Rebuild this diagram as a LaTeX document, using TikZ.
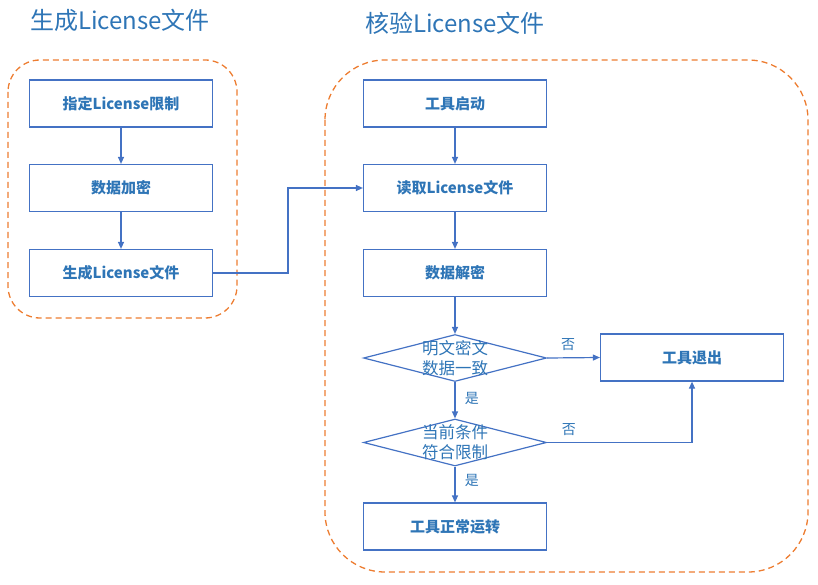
\documentclass[tikz,border=0pt]{standalone}
\usepackage{fontspec}
\setmainfont{Noto Sans CJK SC}
\usetikzlibrary{arrows.meta,shapes.geometric}
\definecolor{lineblue}{HTML}{4472C4}
\definecolor{txtblue}{HTML}{2E75B6}
\definecolor{dashor}{HTML}{ED7D31}
\begin{document}
\begin{tikzpicture}[x=1pt,y=-1pt,
  box/.style={draw=lineblue,line width=1.2pt,minimum width=183pt,minimum height=47pt,inner sep=0pt,text=txtblue,font=\fontsize{15}{17}\selectfont\bfseries},
  dia/.style={draw=lineblue,line width=1.2pt,diamond,aspect=3.9,minimum width=183pt,minimum height=47pt,inner sep=0pt,text=txtblue,align=center,font=\fontsize{16.5}{20}\selectfont},
  conn/.style={draw=lineblue,line width=1.2pt,-{Triangle[length=7pt,width=6pt]}},
  grp/.style={draw=dashor,line width=1.3pt,dash pattern=on 6pt off 4pt},
  ttl/.style={text=txtblue,font=\fontsize{24}{26}\selectfont},
  lbl/.style={text=txtblue,font=\fontsize{14}{16}\selectfont}]
\useasboundingbox (0,0) rectangle (818,585);
% groups
\draw[grp,rounded corners=32pt] (8,60) rectangle (237,318);
\draw[grp,rounded corners=60pt] (325,60) rectangle (808,572);
\node[ttl] (t1) at (120,20) {生成License文件};
\node[ttl] (t2) at (455,23) {核验License文件};
% left column
\node[box] (a1) at (121,103.5) {指定License限制};
\node[box] (a2) at (121,188) {数据加密};
\node[box] (a3) at (121,273) {生成License文件};
% right column
\node[box] (b1) at (455,103.5) {工具启动};
\node[box] (b2) at (455,188) {读取License文件};
\node[box] (b3) at (455,273) {数据解密};
\node[dia] (d1) at (455,358) {};
\node[text=txtblue,align=center,font=\fontsize{16.5}{20}\selectfont] (d1t) at (d1.center) {明文密文\\数据一致};
\node[dia] (d2) at (455,442.5) {};
\node[text=txtblue,align=center,font=\fontsize{16.5}{20}\selectfont] (d2t) at (d2.center) {当前条件\\符合限制};
\node[box] (ex) at (692,357.5) {工具退出};
\node[box] (ok) at (455,526.5) {工具正常运转};
% connectors
\draw[conn] (a1) -- (a2);
\draw[conn] (a2) -- (a3);
\draw[conn] (a3.east) -- (288,273) -- (288,188) -- (b2.west);
\draw[conn] (b1) -- (b2);
\draw[conn] (b2) -- (b3);
\draw[conn] (b3) -- (d1);
\draw[conn] (d1) -- node[lbl,right=6pt,pos=0.45] {是} (d2);
\draw[conn] (d2) -- node[lbl,right=6pt,pos=0.4] {是} (ok);
\draw[conn] (d1.east) -- node[lbl,above=3pt,pos=0.4] {否} (ex.west);
\draw[conn] (d2.east) -- node[lbl,above=3pt,pos=0.15] {否} (ex.south |- d2.east) -- (ex.south);
\end{tikzpicture}
\end{document}
